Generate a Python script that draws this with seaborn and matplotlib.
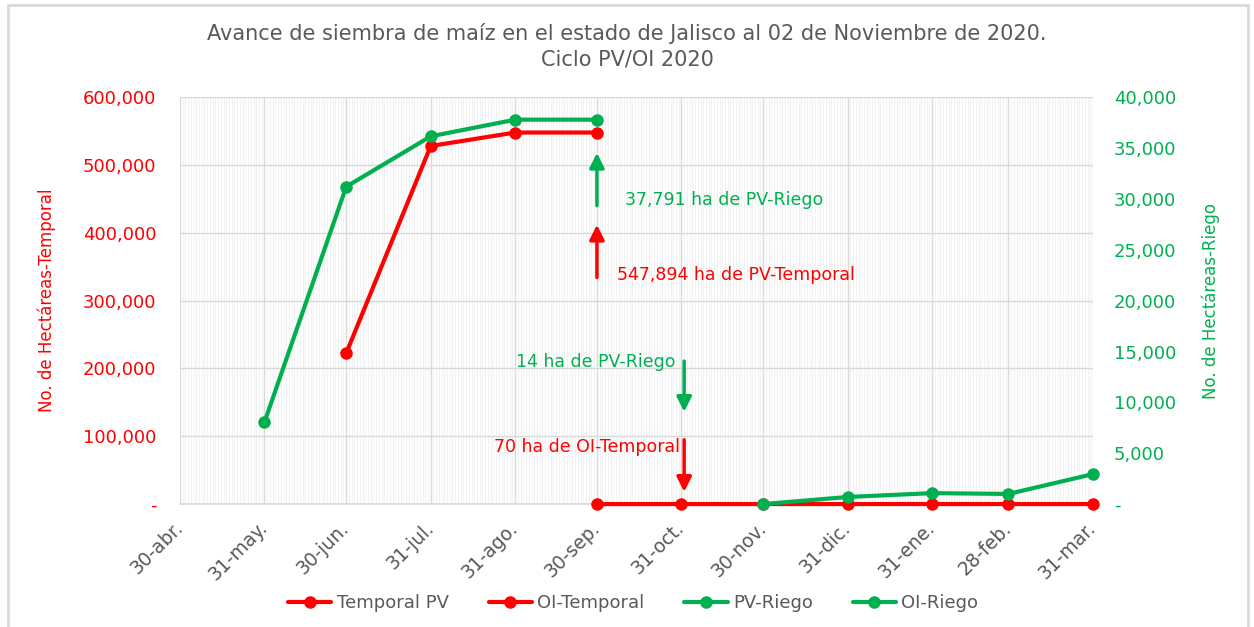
import pandas as pd
import seaborn as sns
import matplotlib.pyplot as plt
import matplotlib.dates as mdates
from matplotlib.lines import Line2D
from matplotlib.patches import Rectangle
from matplotlib.ticker import FuncFormatter

# ---------- Datos ----------
tick_fechas = ["2020-04-30", "2020-05-31", "2020-06-30", "2020-07-31", "2020-08-31", "2020-09-30",
               "2020-10-31", "2020-11-30", "2020-12-31", "2021-01-31", "2021-02-28", "2021-03-31"]
tick_etiquetas = ["30-abr.", "31-may.", "30-jun.", "31-jul.", "31-ago.", "30-sep.",
                  "31-oct.", "30-nov.", "31-dic.", "31-ene.", "28-feb.", "31-mar."]

temporal_pv_fechas = ["2020-06-30", "2020-07-31", "2020-08-31", "2020-09-30"]
temporal_pv = [222500, 528000, 547894, 547894]

oi_temporal_fechas = ["2020-09-30", "2020-10-31", "2020-11-30", "2020-12-31",
                      "2021-01-31", "2021-02-28", "2021-03-31"]
oi_temporal = [0, 70, 70, 70, 70, 70, 70]

pv_riego_fechas = ["2020-05-31", "2020-06-30", "2020-07-31", "2020-08-31", "2020-09-30"]
pv_riego = [8050, 31200, 36150, 37791, 37791]

oi_riego_fechas = ["2020-11-30", "2020-12-31", "2021-01-31", "2021-02-28", "2021-03-31"]
oi_riego = [0, 700, 1080, 1000, 2950]

ROJO = "#FF0000"
VERDE = "#00B050"
GRIS = "#595959"

# ---------- Figura ----------
sns.set_theme(style="white")
plt.rcParams["font.family"] = ["DejaVu Sans"]

fig = plt.figure(figsize=(12.54, 6.27), dpi=100)
ax = fig.add_axes([0.1435, 0.196, 0.7281, 0.649])
ax2 = ax.twinx()

estilo = dict(marker="o", markersize=9, linewidth=3, markeredgewidth=0, clip_on=False, zorder=4)

sns.lineplot(x=pd.to_datetime(temporal_pv_fechas), y=temporal_pv, ax=ax, color=ROJO, **estilo)
sns.lineplot(x=pd.to_datetime(oi_temporal_fechas), y=oi_temporal, ax=ax, color=ROJO, **estilo)
sns.lineplot(x=pd.to_datetime(pv_riego_fechas), y=pv_riego, ax=ax2, color=VERDE, **estilo)
sns.lineplot(x=pd.to_datetime(oi_riego_fechas), y=oi_riego, ax=ax2, color=VERDE, **estilo)

# ---------- Ejes ----------
ax.set_xlim(pd.Timestamp(tick_fechas[0]), pd.Timestamp(tick_fechas[-1]))
ax.set_ylim(0, 600000)
ax2.set_ylim(0, 40000)
ax.set_yticks(range(0, 600001, 100000))
ax2.set_yticks(range(0, 40001, 5000))

fmt = FuncFormatter(lambda v, p: "-" if v == 0 else f"{v:,.0f}")
ax.yaxis.set_major_formatter(fmt)
ax2.yaxis.set_major_formatter(fmt)

ax.set_xticks(pd.to_datetime(tick_fechas))
ax.set_xticklabels(tick_etiquetas, rotation=45, ha="right", va="center", rotation_mode="anchor",
                   fontsize=13.5, color=GRIS)
ax.xaxis.set_minor_locator(mdates.DayLocator())

ax.tick_params(axis="y", colors=ROJO, labelsize=13, length=0, pad=17)
ax2.tick_params(axis="y", colors=VERDE, labelsize=13, length=0, pad=15)
ax.tick_params(axis="x", which="both", length=0, pad=15)

ax.grid(True, axis="y", color="#D9D9D9", linewidth=1)
ax.grid(True, axis="x", which="major", color="#D9D9D9", linewidth=1)
ax.grid(True, axis="x", which="minor", color="#F2F2F2", linewidth=0.8)
ax.set_axisbelow(True)
ax2.grid(False)

for lado in ("left", "right", "top"):
    ax.spines[lado].set_visible(False)
ax.spines["bottom"].set_color("#D9D9D9")
ax.spines["bottom"].set_zorder(1)
for lado in ("left", "right", "top", "bottom"):
    ax2.spines[lado].set_visible(False)

ax.set_xlabel("")
ax.set_ylabel("No. de Hectáreas-Temporal", color=ROJO, fontsize=12)
ax2.set_ylabel("No. de Hectáreas-Riego", color=VERDE, fontsize=12)
ax.yaxis.set_label_coords(-0.136, 0.5)
ax2.yaxis.set_label_coords(1.119, 0.5)

fig.text(0.5, 0.926, "Avance de siembra de maíz en el estado de Jalisco al 02 de Noviembre de 2020.\nCiclo PV/OI 2020",
         ha="center", va="center", fontsize=15, color=GRIS, linespacing=1.3)

# ---------- Flechas y anotaciones ----------
def flecha(x, y0, y1, color):
    ax.annotate("", xy=(pd.Timestamp(x), y1), xytext=(pd.Timestamp(x), y0),
                arrowprops=dict(arrowstyle="-|>", color=color, lw=2.5, mutation_scale=22))

flecha("2020-09-30", 436000, 522000, VERDE)
flecha("2020-09-30", 330000, 416000, ROJO)
flecha("2020-11-01", 215000, 132000, VERDE)
flecha("2020-11-01", 99000, 14000, ROJO)

ax.text(0.487, 0.747, "37,791 ha de PV-Riego", transform=ax.transAxes, color=VERDE,
        fontsize=12.5, ha="left", va="center")
ax.text(0.479, 0.563, "547,894 ha de PV-Temporal", transform=ax.transAxes, color=ROJO,
        fontsize=12.5, ha="left", va="center")
ax.text(0.543, 0.349, "14 ha de PV-Riego", transform=ax.transAxes, color=VERDE,
        fontsize=12.5, ha="right", va="center")
ax.text(0.548, 0.140, "70 ha de OI-Temporal", transform=ax.transAxes, color=ROJO,
        fontsize=12.5, ha="right", va="center")

# ---------- Leyenda ----------
handles = [
    Line2D([], [], color=ROJO, marker="o", markersize=8, linewidth=3),
    Line2D([], [], color=ROJO, marker="o", markersize=8, linewidth=3),
    Line2D([], [], color=VERDE, marker="o", markersize=8, linewidth=3),
    Line2D([], [], color=VERDE, marker="o", markersize=8, linewidth=3),
]
fig.legend(handles, ["Temporal PV", "OI-Temporal", "PV-Riego", "OI-Riego"],
           loc="center", bbox_to_anchor=(0.505, 0.038), ncol=4, frameon=False,
           fontsize=13, labelcolor=GRIS, handlelength=2.4, columnspacing=2.2, handletextpad=0.3)

# Marco exterior
fig.patches.append(Rectangle((0.0065, -0.05), 0.9885, 1.042, transform=fig.transFigure,
                             fill=False, edgecolor="#D9D9D9", linewidth=2))

fig.savefig("out.png", dpi=100)
